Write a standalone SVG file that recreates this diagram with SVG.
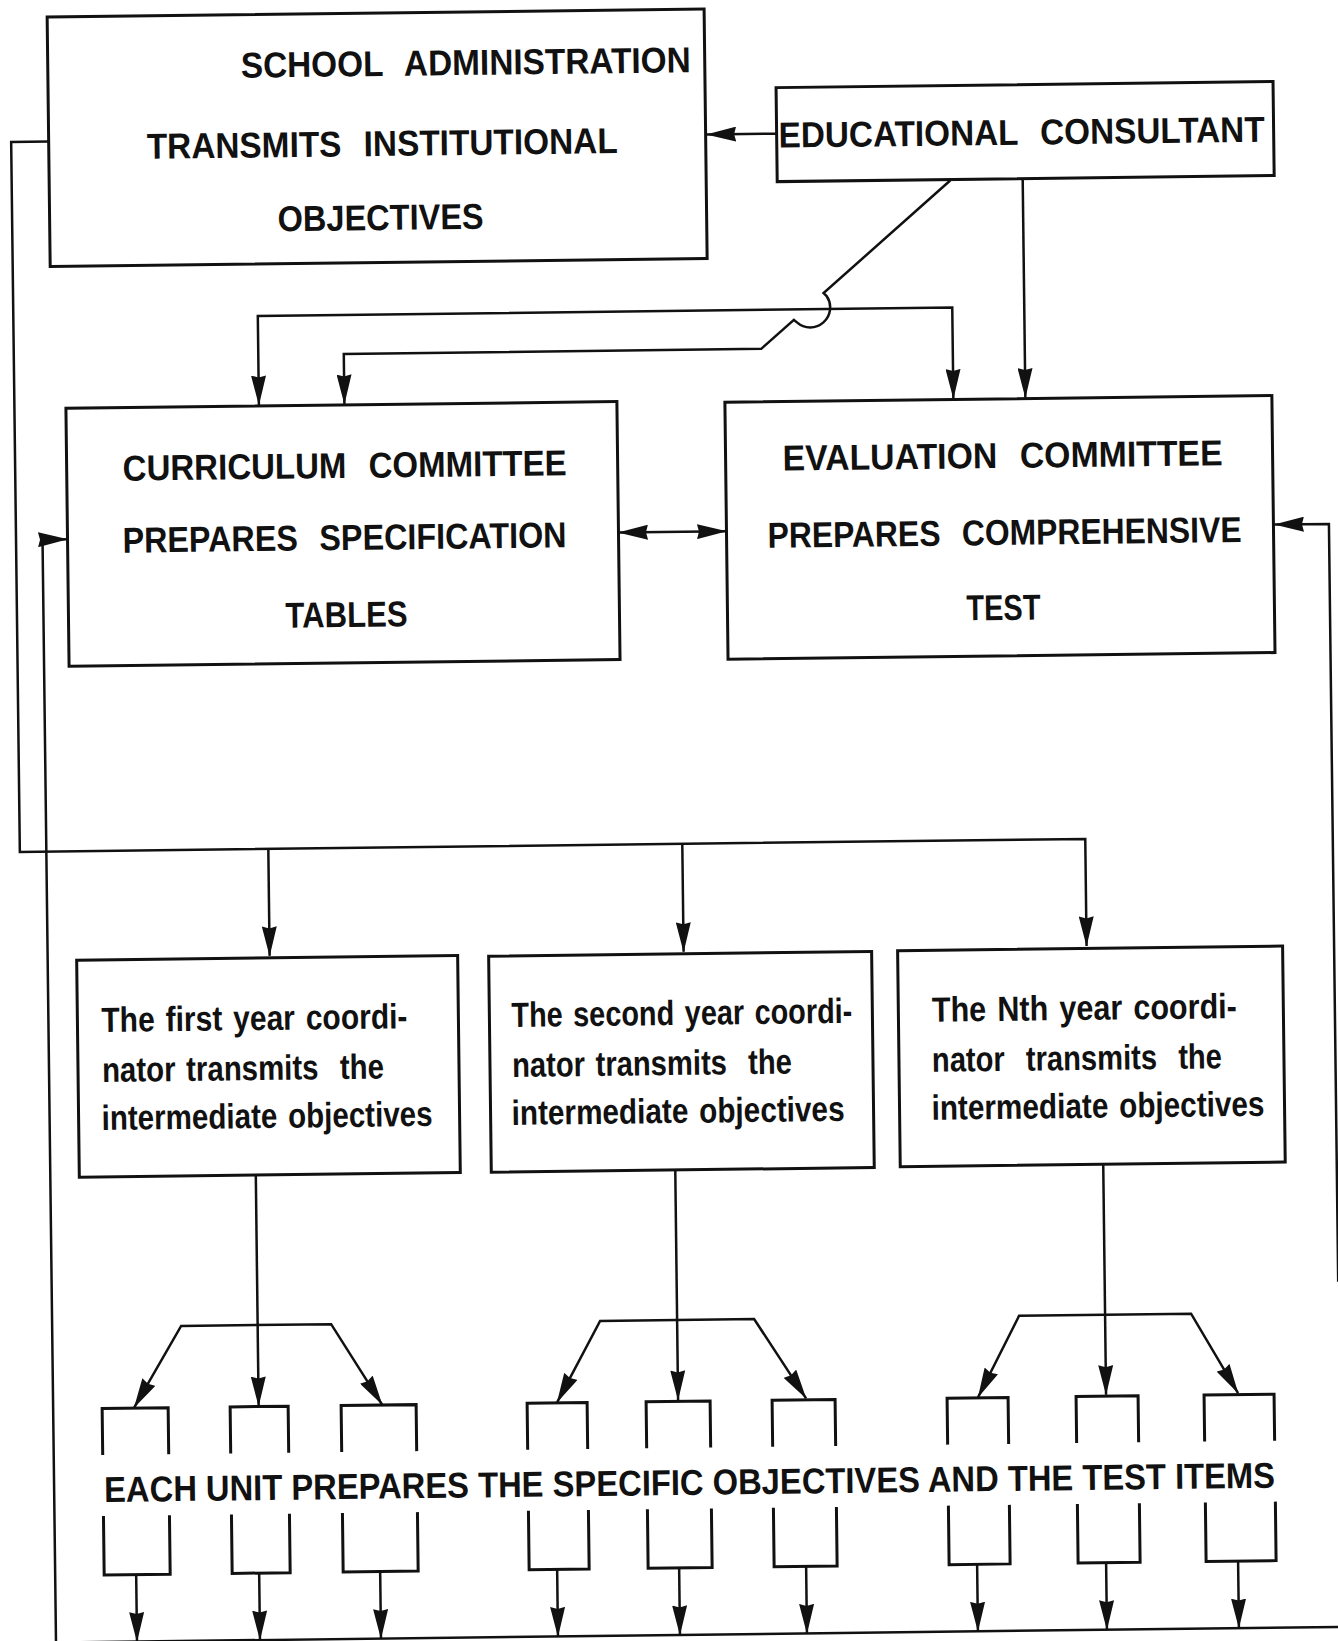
<svg xmlns="http://www.w3.org/2000/svg" width="1338" height="1641" viewBox="0 0 1338 1641">
<defs>
<style>
.box{fill:none;stroke:#111;stroke-width:3}
.wire{fill:none;stroke:#111;stroke-width:2.5}
.to{marker-end:url(#ah)}
.both{marker-start:url(#ah);marker-end:url(#ah)}
.cap{font-family:'Liberation Sans Narrow','Liberation Sans',Arial,sans-serif;font-weight:bold;font-size:36px;fill:#111;word-spacing:14px}
.low{font-family:'Liberation Sans Narrow','Liberation Sans',Arial,sans-serif;font-weight:bold;font-size:35px;fill:#111;word-spacing:3px;white-space:pre}
.band{font-family:'Liberation Sans Narrow','Liberation Sans',Arial,sans-serif;font-weight:bold;font-size:36px;fill:#111}
</style>
<marker id="ah" markerUnits="userSpaceOnUse" viewBox="0 0 30 15" markerWidth="30" markerHeight="15" refX="29.5" refY="7.5" orient="auto-start-reverse">
<path d="M0,0 L30,7.5 L0,15 L2,7.5 Z" fill="#111"/>
</marker>
</defs>
<rect width="1338" height="1641" fill="#fff"/>
<!-- whole chart sits slightly tilted -->
<g transform="rotate(-0.7 669 820)">

<g id="school-administration">
<rect class="box" x="57" y="9.5" width="657" height="249.5"/>
<text class="cap" x="250" y="72.5" textLength="450" lengthAdjust="spacingAndGlyphs">SCHOOL ADMINISTRATION</text>
<text class="cap" x="155" y="152.5" textLength="471" lengthAdjust="spacingAndGlyphs">TRANSMITS INSTITUTIONAL</text>
<text class="cap" x="285" y="226.5" textLength="206" lengthAdjust="spacingAndGlyphs">OBJECTIVES</text>
</g>

<g id="educational-consultant">
<rect class="box" x="785" y="89" width="497" height="94"/>
<text class="cap" x="787" y="149" textLength="486" lengthAdjust="spacingAndGlyphs">EDUCATIONAL CONSULTANT</text>
</g>

<g id="curriculum-committee">
<rect class="box" x="71" y="401" width="551" height="258"/>
<text class="cap" x="127" y="474" textLength="444" lengthAdjust="spacingAndGlyphs">CURRICULUM COMMITTEE</text>
<text class="cap" x="126" y="546" textLength="444" lengthAdjust="spacingAndGlyphs">PREPARES SPECIFICATION</text>
<text class="cap" x="288" y="623" textLength="122" lengthAdjust="spacingAndGlyphs">TABLES</text>
</g>

<g id="evaluation-committee">
<rect class="box" x="730" y="403" width="547" height="257"/>
<text class="cap" x="787" y="472" textLength="440" lengthAdjust="spacingAndGlyphs">EVALUATION COMMITTEE</text>
<text class="cap" x="771" y="549" textLength="474" lengthAdjust="spacingAndGlyphs">PREPARES COMPREHENSIVE</text>
<text class="cap" x="969" y="624" textLength="74" lengthAdjust="spacingAndGlyphs">TEST</text>
</g>

<g id="coordinator-year-1">
<rect class="box" x="75" y="953" width="381" height="217"/>
<text class="low" x="99" y="1025" textLength="306" lengthAdjust="spacingAndGlyphs">The first year coordi-</text>
<text class="low" x="99" y="1075" textLength="282" lengthAdjust="spacingAndGlyphs">nator transmits  the</text>
<text class="low" x="98" y="1123" textLength="331" lengthAdjust="spacingAndGlyphs">intermediate objectives</text>
</g>

<g id="coordinator-year-2">
<rect class="box" x="487" y="954" width="383" height="216"/>
<text class="low" x="509" y="1025" textLength="341" lengthAdjust="spacingAndGlyphs">The second year coordi-</text>
<text class="low" x="509" y="1075" textLength="280" lengthAdjust="spacingAndGlyphs">nator transmits  the</text>
<text class="low" x="508" y="1123" textLength="333" lengthAdjust="spacingAndGlyphs">intermediate objectives</text>
</g>

<g id="coordinator-year-n">
<rect class="box" x="896" y="953.5" width="385" height="216"/>
<text class="low" x="929.5" y="1025" textLength="305" lengthAdjust="spacingAndGlyphs">The Nth year coordi-</text>
<text class="low" x="929" y="1075" textLength="290" lengthAdjust="spacingAndGlyphs">nator  transmits  the</text>
<text class="low" x="928" y="1123" textLength="333" lengthAdjust="spacingAndGlyphs">intermediate objectives</text>
</g>

<!-- unit boxes: sides broken where the band of text runs through -->
<g id="unit-1"><path class="box" d="M95,1448 V1401.5 H161 V1448 M95,1509 V1568 H161 V1509"/></g>
<g id="unit-2"><path class="box" d="M223,1448 V1401.5 H281 V1448 M223,1509 V1568 H281 V1509"/></g>
<g id="unit-3"><path class="box" d="M334,1448 V1401.5 H409 V1448 M334,1509 V1568 H409 V1509"/></g>
<g id="unit-4"><path class="box" d="M520,1448 V1401.5 H580 V1448 M520,1509 V1568 H580 V1509"/></g>
<g id="unit-5"><path class="box" d="M639,1448 V1401.5 H703 V1448 M639,1509 V1568 H703 V1509"/></g>
<g id="unit-6"><path class="box" d="M765,1448 V1401.5 H828 V1448 M765,1509 V1568 H828 V1509"/></g>
<g id="unit-7"><path class="box" d="M940,1448 V1401.5 H1001 V1448 M940,1509 V1568 H1001 V1509"/></g>
<g id="unit-8"><path class="box" d="M1069,1448 V1401.5 H1131 V1448 M1069,1509 V1568 H1131 V1509"/></g>
<g id="unit-9"><path class="box" d="M1197,1448 V1401.5 H1267 V1448 M1197,1509 V1568 H1267 V1509"/></g>

<g id="units-label">
<text class="band" x="96" y="1495" textLength="1171" lengthAdjust="spacingAndGlyphs">EACH UNIT PREPARES THE SPECIFIC OBJECTIVES AND THE TEST ITEMS</text>
</g>

<g id="connectors">
<!-- consultant to administration -->
<path class="wire to" d="M785,135 H715"/>
<!-- institutional objectives out to the year coordinators -->
<path class="wire to" d="M57,134 H19.5 V844 H1085 V951"/>
<path class="wire to" d="M268,844 V951"/>
<path class="wire to" d="M682,844 V952"/>
<!-- consultant to curriculum committee, hopping over the shared line -->
<path class="wire to" d="M958,184 L830,295 L833,298 A20,20 0 0 1 803,324 L800,321.5 L767,350 H349.5 V400"/>
<!-- shared line into both committees -->
<path class="wire both" d="M264,400 V311 H958.5 V402"/>
<!-- consultant to evaluation committee -->
<path class="wire to" d="M1030.5,183 V402"/>
<!-- between the committees -->
<path class="wire both" d="M622,532 H730"/>
<!-- feedback from the units -->
<path class="wire to" d="M46,1640 V532 H71"/>
<path class="wire to" d="M1332.5,1290 V532 H1278"/>
<path class="wire" d="M46,1635 H1345"/>
<!-- coordinators down to their unit fans -->
<path class="wire to" d="M251.5,1170 V1401"/>
<path class="wire to" d="M671,1170 V1400"/>
<path class="wire to" d="M1099,1169.5 V1400"/>
<path class="wire both" d="M127,1401 L175,1320 H325 L375,1401"/>
<path class="wire both" d="M550,1401 L594,1320 H748 L799,1400"/>
<path class="wire both" d="M971,1401 L1013,1320 H1185 L1231,1400"/>
<!-- units down to the return line -->
<path class="wire to" d="M127,1568 V1635"/>
<path class="wire to" d="M250,1568 V1635"/>
<path class="wire to" d="M371,1568 V1635"/>
<path class="wire to" d="M548,1568 V1635"/>
<path class="wire to" d="M670,1568 V1635"/>
<path class="wire to" d="M797,1568 V1635"/>
<path class="wire to" d="M968,1568 V1635"/>
<path class="wire to" d="M1097,1568 V1635"/>
<path class="wire to" d="M1229,1567 V1635"/>
</g>
</g>
</svg>
